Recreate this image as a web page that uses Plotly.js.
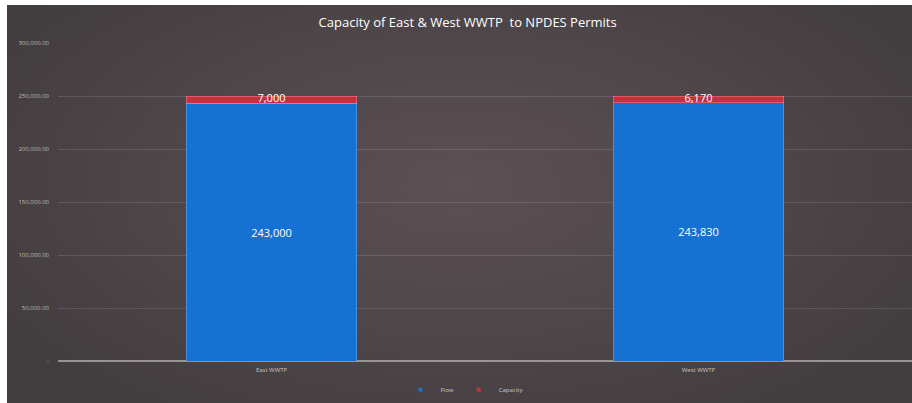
<!DOCTYPE html>
<html>
<head>
<meta charset="utf-8">
<script src="https://cdn.plot.ly/plotly-3.0.1.min.js"></script>
<style>
  html, body { margin: 0; padding: 0; background: #ffffff; width: 912px; height: 403px; overflow: hidden; }
  #chart {
    position: absolute; left: 7px; top: 5px; width: 905px; height: 398px;
    background: radial-gradient(ellipse 60% 70% at 50% 45%, #5b5053 0%, #51484b 45%, #423d3f 100%);
  }
</style>
</head>
<body>
<div id="chart"></div>
<script>
const categories = ["East WWTP", "West WWTP"];
const flowValues = [243000, 243830];
const capacityValues = [7000, 6170];
const yTickValues = [0, 50000, 100000, 150000, 200000, 250000, 300000];
const yTickLabels = ["-", "50,000.00", "100,000.00", "150,000.00", "200,000.00", "250,000.00", "300,000.00"];
const flowColor = "#1672d2";
const capacityColor = "#c8303f";

const fmt = v => v.toLocaleString("en-US");

const traces = [
  {
    type: "bar", name: "Flow", x: categories, y: flowValues, showlegend: false,
    marker: { color: flowColor, line: { color: "rgba(160,200,240,0.6)", width: 0.6 } },
    text: flowValues.map(fmt), textposition: "inside", insidetextanchor: "middle",
    textfont: { color: "#ffffff", size: 11, family: "Open Sans" },
    hoverinfo: "none"
  },
  {
    type: "bar", name: "Capacity", x: categories, y: capacityValues, showlegend: false,
    marker: { color: capacityColor, line: { color: "rgba(255,170,170,0.6)", width: 0.6 } },
    textposition: "none", hoverinfo: "none"
  },
  {
    type: "scatter", mode: "text", showlegend: false, x: categories,
    y: flowValues.map((f, i) => f + capacityValues[i] / 2),
    text: capacityValues.map(fmt),
    textposition: "middle center",
    textfont: { color: "#ffffff", size: 11, family: "Open Sans" },
    hoverinfo: "none"
  },
  {
    type: "scatter", mode: "markers", name: "Flow", x: [null], y: [null],
    marker: { symbol: "square", size: 4, color: flowColor }, hoverinfo: "none"
  },
  {
    type: "scatter", mode: "markers", name: "Capacity", x: [null], y: [null],
    marker: { symbol: "square", size: 4, color: capacityColor }, hoverinfo: "none"
  }
];

const layout = {
  width: 905, height: 398,
  paper_bgcolor: "rgba(0,0,0,0)", plot_bgcolor: "rgba(0,0,0,0)",
  margin: { l: 51, r: 0, t: 38, b: 42 },
  barmode: "stack", bargap: 0.6,
  font: { family: "Open Sans", color: "#c8c4c5" },
  title: {
    text: "Capacity of East & West WWTP  to NPDES Permits",
    font: { family: "Open Sans", size: 13, color: "#ffffff" },
    x: 0.509, xanchor: "center", y: 0.955, yanchor: "middle"
  },
  xaxis: {
    type: "category", showgrid: false, showline: false, zeroline: false,
    ticks: "", tickfont: { size: 6, color: "#c8c4c5" }, ticklabelstandoff: 4
  },
  yaxis: {
    range: [0, 300000], tickvals: yTickValues, ticktext: yTickLabels,
    showgrid: true, gridcolor: "rgba(255,255,255,0.12)", gridwidth: 1,
    zeroline: true, zerolinecolor: "rgba(220,215,215,0.55)", zerolinewidth: 1.5,
    showline: false, ticks: "", tickfont: { size: 6, color: "#bdb8ba" }, ticklabelstandoff: 8
  },
  showlegend: true,
  legend: {
    orientation: "h", xref: "container", yref: "container",
    x: 0.505, xanchor: "center", y: 0.033, yanchor: "middle",
    font: { size: 6, color: "#c8c4c5" }, bgcolor: "rgba(0,0,0,0)",
    itemwidth: 30, traceorder: "normal"
  }
};

Plotly.newPlot("chart", traces, layout, { displayModeBar: false, staticPlot: true });
</script>
</body>
</html>
